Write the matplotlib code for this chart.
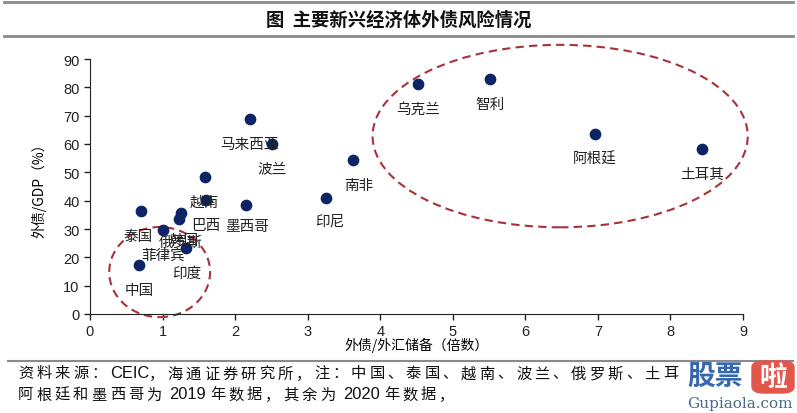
import re
import matplotlib
matplotlib.use("Agg")
import matplotlib.pyplot as plt
from matplotlib.patches import Ellipse, FancyBboxPatch
from matplotlib.lines import Line2D

CJK = ["Noto Sans CJK SC", "DejaVu Sans"]
plt.rcParams["font.family"] = ["Liberation Sans", "Noto Sans CJK SC"]

countries = ["中国", "泰国", "菲律宾", "俄罗斯", "韩国", "印度", "越南", "巴西", "墨西哥",
             "印尼", "南非", "马来西亚", "波兰", "乌克兰", "智利", "阿根廷", "土耳其"]
debt_to_reserves = [0.68, 0.70, 1.01, 1.23, 1.25, 1.33, 1.58, 1.60, 2.15,
                    3.25, 3.62, 2.20, 2.51, 4.52, 5.51, 6.96, 8.44]
debt_to_gdp = [17.3, 36.5, 29.8, 33.5, 35.5, 23.3, 48.5, 40.2, 38.5,
               41.1, 54.4, 68.9, 60.0, 81.3, 83.0, 63.6, 58.3]
x_ticks = list(range(0, 10))
y_ticks = list(range(0, 100, 10))

# label offsets in pixels (most labels sit just below their dot)
LABEL_OFFSETS = {"俄罗斯": (1, -23), "韩国": (3, -27), "墨西哥": (1, -21),
                 "南非": (6, -25), "印尼": (4, -23), "泰国": (-3, -25)}

W, H = 797, 414
fig = plt.figure(figsize=(W / 100, H / 100), dpi=100)
ax = fig.add_axes([90 / W, 1 - 315 / H, 653 / W, 255 / H])

ax.scatter(debt_to_reserves, debt_to_gdp, s=55, color="#0d2466", zorder=3, clip_on=False)
for name, x, y in zip(countries, debt_to_reserves, debt_to_gdp):
    dx, dy = LABEL_OFFSETS.get(name, (0, -25))
    ax.annotate(name, (x, y), xytext=(dx, dy), textcoords="offset pixels",
                ha="center", va="center", fontsize=10.5, family=CJK, color="#222222")

ring = dict(fill=False, edgecolor="#a8323a", lw=1.5, linestyle=(0, (4, 2.5)), clip_on=False, zorder=2)
ax.add_patch(Ellipse((6.48, 62.8), 5.17, 64.4, **ring))
ax.add_patch(Ellipse((0.96, 14.8), 1.39, 31.8, **ring))

ax.set_xlim(0, 9)
ax.set_ylim(0, 90)
ax.set_xticks(x_ticks)
ax.set_yticks(y_ticks)
ax.tick_params(direction="out", length=4, width=1, labelsize=10.5, colors="#222222")
for side in ("top", "right"):
    ax.spines[side].set_visible(False)
for side in ("left", "bottom"):
    ax.spines[side].set_color("#222222")
ax.set_xlabel("外债/外汇储备（倍数）", family=CJK, fontsize=10, labelpad=-1)
ax.set_ylabel("外债/GDP（%）", family=CJK, fontsize=10, labelpad=12)

# title band
fig.add_artist(Line2D([0.005, 0.995], [1 - 3 / H] * 2, color="#8a8a8a", lw=2))
fig.add_artist(Line2D([0.005, 0.995], [1 - 37 / H] * 2, color="#8a8a8a", lw=2))
fig.text(0.5, 1 - 20 / H, "图  主要新兴经济体外债风险情况", ha="center", va="center",
         fontsize=13.2, fontweight="bold", family=CJK, color="#111111")


def spaced_text(x_px, y_px, s, size, track):
    # the note in the source has loose spacing between CJK characters only
    r = fig.canvas.get_renderer()
    for tok in re.findall(r"[ -~]+|[^ -~]", s):
        ascii_run = tok.isascii()
        lead = len(tok) - len(tok.lstrip(" "))
        x_px += lead * size * 0.4
        body = tok.strip(" ")
        if body:
            fam = ["Liberation Sans"] if ascii_run else CJK
            fs = size * 1.08 if ascii_run else size
            t = fig.text(x_px / W, 1 - y_px / H, body, ha="left", va="center",
                         fontsize=fs, family=fam, color="#111111")
            x_px += t.get_window_extent(r).width
        x_px += (len(tok) - lead - len(body)) * size * 0.4
        if not ascii_run:
            x_px += track


# source note
fig.add_artist(Line2D([8 / W, 0.995], [1 - 362 / H] * 2, color="#8a8a8a", lw=1.5))
spaced_text(18, 374, "资料来源：CEIC，海通证券研究所，注：中国、泰国、越南、波兰、俄罗斯、土耳", 11, 3.1)
spaced_text(18, 395, "阿根廷和墨西哥为 2019 年数据，其余为 2020 年数据，", 11, 3.1)

# watermark
fig.patches.append(FancyBboxPatch((684 / W, 1 - 394 / H), 64 / W, 30 / H, boxstyle="square,pad=0",
                                  transform=fig.transFigure, color="white", zorder=4))
fig.text(715 / W, 1 - 377 / H, "股票", ha="center", va="center", fontsize=20, fontweight="bold",
         family=CJK, color="#3568b0", zorder=5)
fig.patches.append(FancyBboxPatch((752 / W, 1 - 394 / H), 42 / W, 32 / H,
                                  boxstyle="round,pad=0,rounding_size=0.015",
                                  transform=fig.transFigure, color="#e2574c", zorder=4))
fig.text(773 / W, 1 - 378 / H, "啦", ha="center", va="center", fontsize=20, fontweight="bold",
         family=CJK, color="white", zorder=5)
fig.text(740 / W, 1 - 404 / H, "Gupiaola.com", ha="center", va="center", fontsize=11,
         family="DejaVu Serif", color="#4a6a8a", zorder=5)

fig.savefig("out.png", dpi=100)
